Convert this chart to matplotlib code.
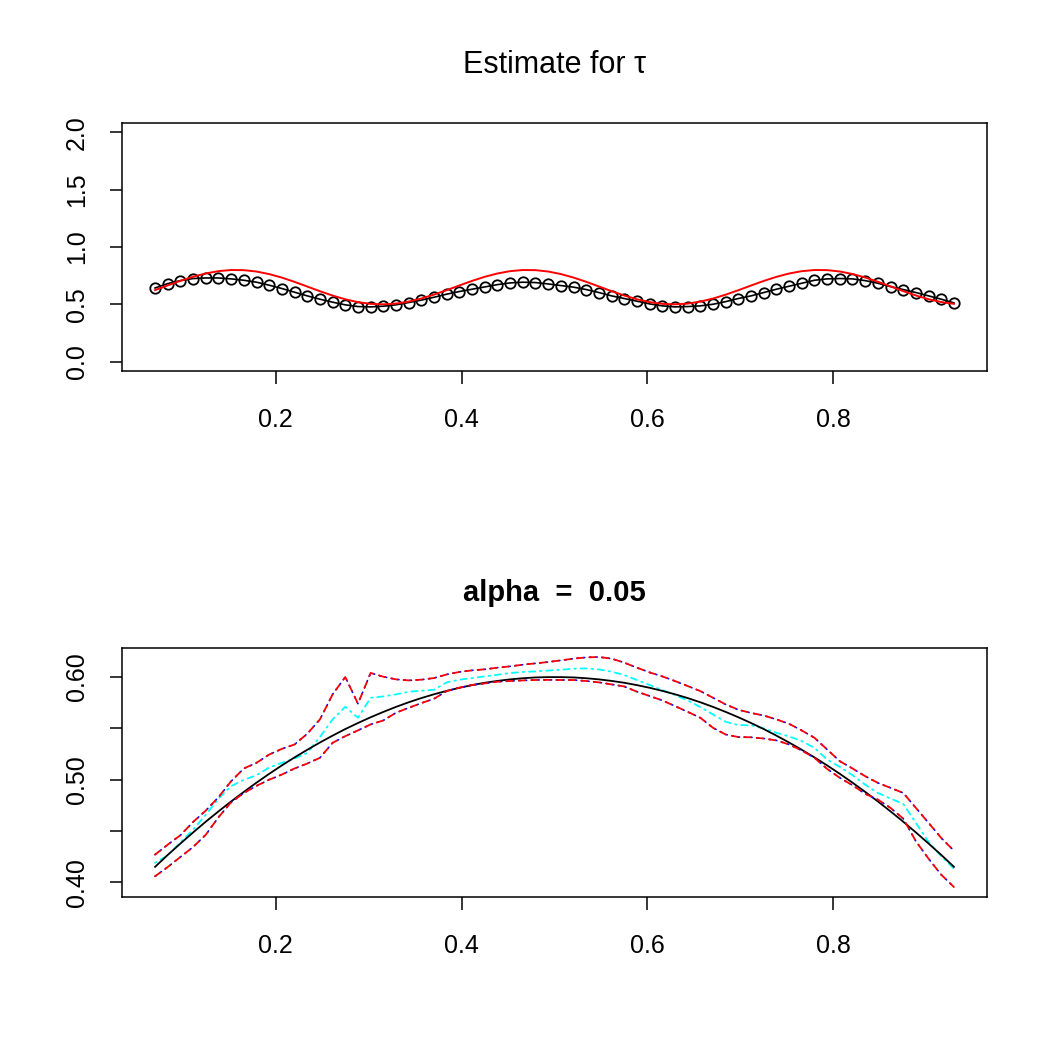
import numpy as np
import matplotlib
matplotlib.use('Agg')
import matplotlib.pyplot as plt

plt.rcParams['font.family'] = ['Liberation Sans', 'DejaVu Sans']
plt.rcParams['lines.scale_dashes'] = False

# common grid
x = np.linspace(0.07, 0.93, 64)

# top panel: estimated tau (circles) and true tau (red)
tau_est = [0.643, 0.681, 0.707, 0.725, 0.730, 0.730, 0.722, 0.710, 0.693, 0.667,
           0.638, 0.606, 0.574, 0.545, 0.519, 0.496, 0.481, 0.478, 0.484, 0.496,
           0.516, 0.537, 0.562, 0.589, 0.612, 0.632, 0.652, 0.672, 0.687, 0.693,
           0.690, 0.678, 0.664, 0.650, 0.629, 0.603, 0.574, 0.551, 0.528, 0.504,
           0.487, 0.478, 0.481, 0.487, 0.501, 0.524, 0.551, 0.574, 0.603, 0.632,
           0.658, 0.684, 0.710, 0.722, 0.725, 0.722, 0.707, 0.684, 0.655, 0.629,
           0.603, 0.574, 0.545, 0.513]
tau_true = [0.6245, 0.6653, 0.7050, 0.7406, 0.7694, 0.7895, 0.7992, 0.7979, 0.7858, 0.7637,
            0.7330, 0.6960, 0.6554, 0.6146, 0.5767, 0.5441, 0.5193, 0.5044, 0.5001, 0.5069,
            0.5243, 0.5510, 0.5851, 0.6240, 0.6648, 0.7045, 0.7402, 0.7691, 0.7893, 0.7991,
            0.7981, 0.7861, 0.7641, 0.7335, 0.6966, 0.6560, 0.6151, 0.5772, 0.5445, 0.5197,
            0.5045, 0.5001, 0.5067, 0.5240, 0.5506, 0.5846, 0.6234, 0.6642, 0.7040, 0.7397,
            0.7687, 0.7891, 0.7991, 0.7982, 0.7863, 0.7644, 0.7340, 0.6971, 0.6566, 0.6157,
            0.5776, 0.5449, 0.5199, 0.5047]

# bottom panel: true curve, estimate and band
beta_true = [0.4151, 0.4267, 0.4378, 0.4486, 0.4591, 0.4691, 0.4788, 0.4881, 0.4971, 0.5057,
             0.5139, 0.5217, 0.5291, 0.5362, 0.5429, 0.5493, 0.5552, 0.5608, 0.5660, 0.5709,
             0.5754, 0.5795, 0.5832, 0.5865, 0.5895, 0.5921, 0.5944, 0.5962, 0.5977, 0.5988,
             0.5996, 0.5999, 0.5999, 0.5996, 0.5988, 0.5977, 0.5962, 0.5944, 0.5921, 0.5895,
             0.5865, 0.5832, 0.5795, 0.5754, 0.5709, 0.5660, 0.5608, 0.5552, 0.5493, 0.5429,
             0.5362, 0.5291, 0.5217, 0.5139, 0.5057, 0.4971, 0.4881, 0.4788, 0.4691, 0.4591,
             0.4486, 0.4378, 0.4267, 0.4151]
beta_est = [0.4190, 0.4263, 0.4390, 0.4513, 0.4659, 0.4816, 0.4937, 0.4998, 0.5044, 0.5118,
            0.5164, 0.5206, 0.5261, 0.5415, 0.5587, 0.5710, 0.5603, 0.5798, 0.5811, 0.5831,
            0.5857, 0.5866, 0.5876, 0.5948, 0.5974, 0.5990, 0.6006, 0.6022, 0.6039, 0.6049,
            0.6055, 0.6063, 0.6071, 0.6081, 0.6084, 0.6074, 0.6052, 0.6019, 0.5971, 0.5922,
            0.5873, 0.5824, 0.5772, 0.5707, 0.5635, 0.5564, 0.5532, 0.5530, 0.5499, 0.5457,
            0.5421, 0.5376, 0.5310, 0.5196, 0.5125, 0.5044, 0.4952, 0.4871, 0.4816, 0.4764,
            0.4579, 0.4393, 0.4254, 0.4133]
upper = [0.4270, 0.4367, 0.4459, 0.4588, 0.4699, 0.4829, 0.4985, 0.5109, 0.5164, 0.5245,
         0.5300, 0.5343, 0.5447, 0.5587, 0.5831, 0.6000, 0.5740, 0.6040, 0.6003, 0.5977,
         0.5967, 0.5974, 0.5990, 0.6025, 0.6049, 0.6065, 0.6075, 0.6091, 0.6104, 0.6120,
         0.6133, 0.6146, 0.6162, 0.6179, 0.6191, 0.6195, 0.6179, 0.6140, 0.6091, 0.6045,
         0.6006, 0.5961, 0.5912, 0.5863, 0.5798, 0.5733, 0.5681, 0.5650, 0.5625, 0.5587,
         0.5544, 0.5479, 0.5408, 0.5294, 0.5180, 0.5109, 0.5034, 0.4969, 0.4920, 0.4871,
         0.4725, 0.4579, 0.4432, 0.4308]
lower = [0.4059, 0.4149, 0.4247, 0.4344, 0.4464, 0.4634, 0.4780, 0.4870, 0.4940, 0.5000,
         0.5050, 0.5109, 0.5157, 0.5213, 0.5359, 0.5424, 0.5480, 0.5538, 0.5577, 0.5652,
         0.5700, 0.5746, 0.5788, 0.5863, 0.5896, 0.5922, 0.5938, 0.5954, 0.5961, 0.5967,
         0.5971, 0.5972, 0.5971, 0.5971, 0.5961, 0.5948, 0.5928, 0.5908, 0.5857, 0.5815,
         0.5772, 0.5717, 0.5661, 0.5603, 0.5505, 0.5440, 0.5415, 0.5413, 0.5401, 0.5382,
         0.5343, 0.5284, 0.5213, 0.5105, 0.5018, 0.4946, 0.4862, 0.4806, 0.4725, 0.4621,
         0.4400, 0.4230, 0.4074, 0.3954]

top_yticks = [0.0, 0.5, 1.0, 1.5, 2.0]
top_ylabels = ['0.0', '0.5', '1.0', '1.5', '2.0']
bot_yticks = [0.40, 0.45, 0.50, 0.55, 0.60]
bot_ylabels = ['0.40', '', '0.50', '', '0.60']
xticks = [0.2, 0.4, 0.6, 0.8]
xlabels = ['0.2', '0.4', '0.6', '0.8']

DASHED = (0, (4.5, 4.5))
DOTTED = (0, (1.1, 3.4))
DASHDOT = (0, (1.1, 3.4, 4.5, 3.4))


def style_axes(ax):
    for s in ax.spines.values():
        s.set_linewidth(1.1)
    ax.tick_params(direction='out', length=9, width=1.1, labelsize=18)
    ax.tick_params(axis='x', pad=17.5)
    ax.tick_params(axis='y', pad=15)
    ax.set_xticks(xticks)
    ax.set_xticklabels(xlabels)
    ax.set_xlim(0.0344, 0.9656)
    for lab in ax.get_yticklabels():
        lab.set_rotation(90)
        lab.set_va('center')


fig = plt.figure(figsize=(10.5, 10.5), dpi=100)

# top panel
ax1 = fig.add_axes([0.1162, 0.6467, 0.8238, 0.2362])
ax1.plot(x, tau_est, color='black', lw=1.2, marker='o', ms=7.5,
         mfc='none', mec='black', mew=1.3)
ax1.plot(x, tau_true, color='red', lw=1.4)
ax1.set_ylim(-0.08, 2.08)
ax1.set_yticks(top_yticks)
ax1.set_yticklabels(top_ylabels)
style_axes(ax1)
ax1.set_title('Estimate for τ', fontsize=22, pad=36)

# bottom panel
ax2 = fig.add_axes([0.1162, 0.1460, 0.8238, 0.2366])
ax2.plot(x, beta_est, color='cyan', lw=1.3, linestyle=DASHDOT, dash_capstyle='round')
ax2.plot(x, beta_true, color='black', lw=1.3)
for band in (upper, lower):
    ax2.plot(x, band, color='blue', lw=1.2, linestyle=DOTTED, dash_capstyle='round')
    ax2.plot(x, band, color='red', lw=1.3, linestyle=DASHED, dash_capstyle='round')
ax2.set_ylim(0.386, 0.628)
ax2.set_yticks(bot_yticks)
ax2.set_yticklabels(bot_ylabels)
style_axes(ax2)
ax2.set_title('alpha  =  0.05', fontsize=21, fontweight='bold', pad=34)

fig.savefig('out.png', dpi=100)
